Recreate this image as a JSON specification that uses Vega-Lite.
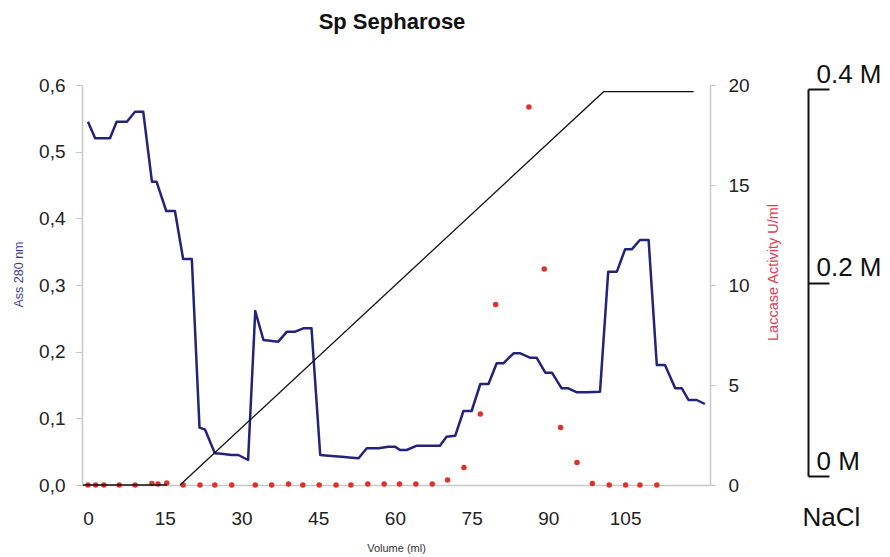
{
  "$schema": "https://vega.github.io/schema/vega-lite/v6.json",
  "width": 628,
  "height": 400,
  "autosize": {"type": "none"},
  "padding": {"left": 82, "top": 85, "right": 180, "bottom": 72},
  "background": "white",
  "config": {"view": {"stroke": null}, "font": "Liberation Sans", "axis": {"grid": false}},
  "title": {"text": "Sp Sepharose", "fontSize": 22, "fontWeight": "bold", "font": "Liberation Sans", "color": "#111111", "anchor": "middle", "offset": 27, "dx": -4},
  "datasets": {
    "a280": [
      {"volume": 0, "A280": 0.545}, {"volume": 1.4, "A280": 0.52}, {"volume": 4.3, "A280": 0.52},
      {"volume": 5.6, "A280": 0.545}, {"volume": 7.6, "A280": 0.545}, {"volume": 9.2, "A280": 0.56},
      {"volume": 10.8, "A280": 0.56}, {"volume": 12.5, "A280": 0.455}, {"volume": 13.4, "A280": 0.455},
      {"volume": 15.3, "A280": 0.411}, {"volume": 17.0, "A280": 0.411}, {"volume": 18.6, "A280": 0.339},
      {"volume": 20.3, "A280": 0.339}, {"volume": 21.8, "A280": 0.086}, {"volume": 22.9, "A280": 0.083},
      {"volume": 24.8, "A280": 0.0475}, {"volume": 26.1, "A280": 0.047}, {"volume": 28.1, "A280": 0.045},
      {"volume": 29.4, "A280": 0.045}, {"volume": 31.3, "A280": 0.0375}, {"volume": 32.7, "A280": 0.261},
      {"volume": 34.3, "A280": 0.2175}, {"volume": 37.2, "A280": 0.215}, {"volume": 38.9, "A280": 0.23},
      {"volume": 40.5, "A280": 0.23}, {"volume": 42.1, "A280": 0.235}, {"volume": 43.7, "A280": 0.235},
      {"volume": 45.4, "A280": 0.045}, {"volume": 47.0, "A280": 0.044}, {"volume": 49.6, "A280": 0.0425},
      {"volume": 51.6, "A280": 0.041}, {"volume": 52.9, "A280": 0.04}, {"volume": 54.5, "A280": 0.055},
      {"volume": 56.8, "A280": 0.055}, {"volume": 58.7, "A280": 0.0575}, {"volume": 60.0, "A280": 0.0575},
      {"volume": 61.0, "A280": 0.0525}, {"volume": 62.3, "A280": 0.0525}, {"volume": 64.3, "A280": 0.059},
      {"volume": 68.8, "A280": 0.059}, {"volume": 70.1, "A280": 0.0725}, {"volume": 71.8, "A280": 0.074},
      {"volume": 73.4, "A280": 0.111}, {"volume": 75.0, "A280": 0.111}, {"volume": 76.7, "A280": 0.1515},
      {"volume": 78.3, "A280": 0.1515}, {"volume": 79.9, "A280": 0.1825}, {"volume": 81.2, "A280": 0.1825},
      {"volume": 83.2, "A280": 0.1975}, {"volume": 84.5, "A280": 0.1975}, {"volume": 86.4, "A280": 0.191},
      {"volume": 87.7, "A280": 0.191}, {"volume": 89.4, "A280": 0.1685}, {"volume": 90.7, "A280": 0.1685},
      {"volume": 92.6, "A280": 0.145}, {"volume": 93.9, "A280": 0.145}, {"volume": 95.6, "A280": 0.139},
      {"volume": 97.5, "A280": 0.139}, {"volume": 100.1, "A280": 0.14}, {"volume": 101.7, "A280": 0.32},
      {"volume": 103.4, "A280": 0.32}, {"volume": 105.0, "A280": 0.3535}, {"volume": 106.3, "A280": 0.3535},
      {"volume": 107.9, "A280": 0.3675}, {"volume": 109.6, "A280": 0.3675}, {"volume": 111.2, "A280": 0.18},
      {"volume": 112.8, "A280": 0.18}, {"volume": 114.8, "A280": 0.145}, {"volume": 116.1, "A280": 0.145},
      {"volume": 117.4, "A280": 0.1275}, {"volume": 119.0, "A280": 0.1275}, {"volume": 120.6, "A280": 0.1215}
    ],
    "activity": [
      {"volume": 0, "activity": 0}, {"volume": 1.5, "activity": 0}, {"volume": 3.1, "activity": 0},
      {"volume": 6.1, "activity": 0}, {"volume": 9.2, "activity": 0}, {"volume": 12.5, "activity": 0.08},
      {"volume": 13.7, "activity": 0.05}, {"volume": 15.4, "activity": 0.1}, {"volume": 18.6, "activity": 0},
      {"volume": 21.9, "activity": 0}, {"volume": 24.8, "activity": 0}, {"volume": 28.1, "activity": 0},
      {"volume": 32.7, "activity": 0}, {"volume": 35.9, "activity": 0}, {"volume": 39.2, "activity": 0.05},
      {"volume": 42.0, "activity": 0}, {"volume": 45.2, "activity": 0}, {"volume": 48.5, "activity": 0},
      {"volume": 51.4, "activity": 0}, {"volume": 54.7, "activity": 0.05}, {"volume": 57.9, "activity": 0.05},
      {"volume": 60.9, "activity": 0.05}, {"volume": 64.1, "activity": 0.05}, {"volume": 67.3, "activity": 0.05},
      {"volume": 70.3, "activity": 0.25}, {"volume": 73.5, "activity": 0.88}, {"volume": 76.7, "activity": 3.55},
      {"volume": 79.7, "activity": 9.03}, {"volume": 86.2, "activity": 18.9}, {"volume": 89.2, "activity": 10.8},
      {"volume": 92.4, "activity": 2.87}, {"volume": 95.6, "activity": 1.13}, {"volume": 98.6, "activity": 0.08},
      {"volume": 101.9, "activity": 0}, {"volume": 105.1, "activity": 0}, {"volume": 107.9, "activity": 0},
      {"volume": 111.2, "activity": 0}
    ],
    "gradient": [
      {"segment": "hold", "volume": -1.0, "NaCl": 0}, {"segment": "hold", "volume": 15.4, "NaCl": 0},
      {"segment": "ramp", "volume": 18.0, "NaCl": 0}, {"segment": "ramp", "volume": 100.8, "NaCl": 0.4},
      {"segment": "ramp", "volume": 118.4, "NaCl": 0.4}
    ],
    "naclAxis": [{"volume": 0, "NaCl": 0}, {"volume": 0, "NaCl": 0.4}]
  },
  "encoding": {
    "x": {
      "field": "volume", "type": "quantitative",
      "scale": {"domain": [-1.17, 121.6], "nice": false, "zero": false},
      "axis": {
        "values": [0, 15, 30, 45, 60, 75, 90, 105],
        "title": "Volume (ml)", "titleFontSize": 11, "titleFontWeight": "normal", "titleColor": "#333333",
        "titleY": 66, "titleBaseline": "alphabetic",
        "labelFontSize": 19, "labelColor": "#222222", "labelPadding": 24, "labelFlush": false,
        "ticks": false, "domainColor": "#c8c8c8", "domainWidth": 1.5, "grid": false
      }
    }
  },
  "layer": [
    {
      "data": {"name": "a280"},
      "mark": {"type": "line", "color": "#23237b", "strokeWidth": 2.5, "strokeJoin": "round"},
      "encoding": {
        "y": {
          "field": "A280", "type": "quantitative",
          "scale": {"domain": [0, 0.6], "nice": false},
          "axis": {
            "orient": "left", "values": [0, 0.1, 0.2, 0.3, 0.4, 0.5, 0.6],
            "labelExpr": "replace(format(datum.value, '.1f'), '.', ',')",
            "labelFontSize": 19, "labelColor": "#222222", "labelPadding": 10, "labelFlush": false,
            "tickSize": 7, "tickColor": "#c8c8c8", "domainColor": "#c8c8c8", "domainWidth": 1.5,
            "title": "Ass 280 nm", "titleColor": "#3d3d8f", "titleFontSize": 12.5, "titleFontWeight": "normal",
            "titleAngle": -90, "titleX": -64, "titleY": 189, "titleAlign": "center", "titleBaseline": "middle"
          }
        }
      }
    },
    {
      "data": {"name": "activity"},
      "mark": {"type": "circle", "color": "#e0302b", "size": 30, "opacity": 1},
      "encoding": {
        "y": {
          "field": "activity", "type": "quantitative",
          "scale": {"domain": [0, 20], "nice": false},
          "axis": {
            "orient": "right", "values": [0, 5, 10, 15, 20],
            "labelFontSize": 19, "labelColor": "#222222", "labelPadding": 12, "labelFlush": false,
            "tickSize": 6, "tickColor": "#c8c8c8", "domainColor": "#c8c8c8", "domainWidth": 1.5,
            "title": "Laccase Activity U/ml", "titleColor": "#e04050", "titleFontSize": 14.5, "titleFontWeight": "normal",
            "titleAngle": -90, "titleX": 63, "titleY": 187, "titleAlign": "center", "titleBaseline": "middle"
          }
        }
      }
    },
    {
      "data": {"name": "gradient"},
      "mark": {"type": "line", "color": "#111111", "strokeWidth": 1.3},
      "encoding": {
        "y": {"field": "NaCl", "type": "quantitative", "scale": {"domain": [0, 0.4068], "nice": false}, "axis": null},
        "detail": {"field": "segment", "type": "nominal"}
      }
    },
    {
      "data": {"name": "naclAxis"},
      "mark": {"type": "point", "opacity": 0},
      "encoding": {
        "y": {
          "field": "NaCl", "type": "quantitative",
          "scale": {"domain": [0, 0.4], "range": [391, 4], "nice": false},
          "axis": {
            "orient": "right", "offset": 98, "values": [0, 0.2, 0.4],
            "labelExpr": "datum.value == 0 ? '0 M' : format(datum.value, '.1f') + ' M'",
            "labelFontSize": 26, "labelColor": "#111111", "labelBaseline": "alphabetic", "labelAlign": "left",
            "labelPadding": -13, "labelOffset": -7, "labelOverlap": false, "labelFlush": false, "labelBound": false,
            "domainColor": "#111111", "domainWidth": 2, "tickColor": "#111111", "tickWidth": 2, "tickSize": 21,
            "title": "NaCl", "titleFontSize": 26, "titleFontWeight": "normal", "titleColor": "#111111",
            "titleAngle": 0, "titleX": -6, "titleY": 440, "titleAlign": "left", "titleBaseline": "alphabetic"
          }
        }
      }
    }
  ],
  "resolve": {"scale": {"y": "independent"}, "axis": {"y": "independent"}}
}
